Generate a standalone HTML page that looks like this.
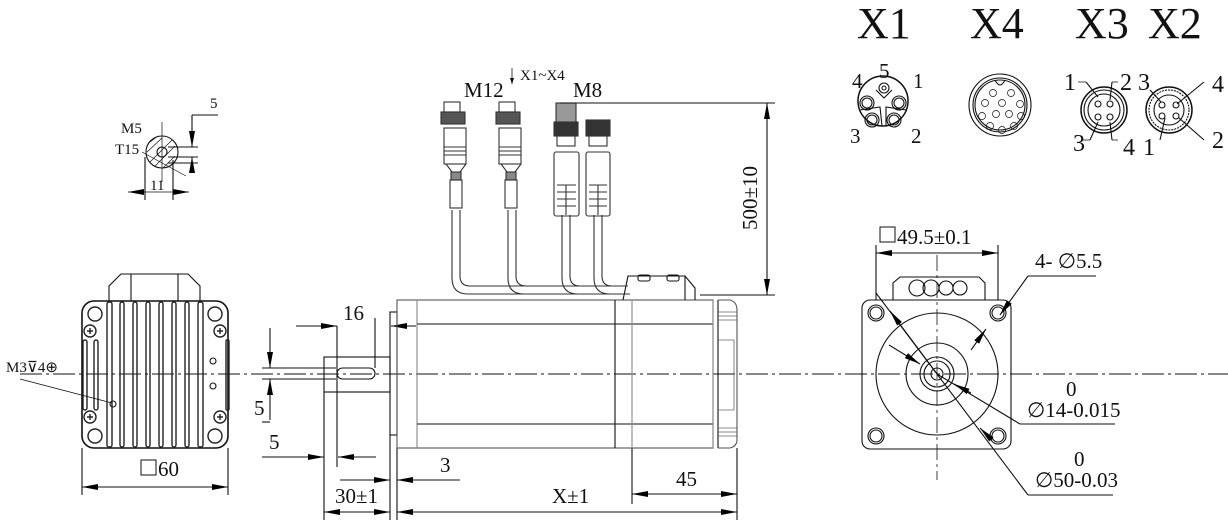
<!DOCTYPE html>
<html><head><meta charset="utf-8"><style>
html,body{margin:0;padding:0;background:#fff}
svg{display:block}
text{font-family:"Liberation Serif",serif;fill:#111}
</style></head><body>
<svg width="1228" height="524" viewBox="0 0 1228 524" xmlns="http://www.w3.org/2000/svg">
<defs>
<marker id="a" viewBox="0 0 16 6" refX="16" refY="3" markerWidth="16" markerHeight="6" markerUnits="userSpaceOnUse" orient="auto-start-reverse"><path d="M0,0L16,3L0,6z" fill="#000"/></marker>
</defs>
<g fill="none" stroke="#111" stroke-width="1.1">
<line x1="20" y1="374" x2="1228" y2="374" stroke-dasharray="22,4,3,4" stroke-width="0.9"/>

<!-- Left end view -->
<rect x="82" y="301" width="146" height="147" rx="12" stroke-width="1.6"/>
<path d="M109 301V286L121 274H188L200 286V301" />
<path d="M131 274V301M178 274V301"/>
<g stroke="#222" stroke-width="1.4">
<rect x="107" y="302" width="5" height="145" rx="2"/><rect x="120" y="302" width="4" height="145" rx="2"/>
<rect x="133" y="302" width="4" height="145" rx="2"/><rect x="146" y="302" width="4" height="145" rx="2"/>
<rect x="159" y="302" width="4" height="145" rx="2"/><rect x="172" y="302" width="4" height="145" rx="2"/>
<rect x="185" y="302" width="4" height="145" rx="2"/><rect x="198" y="302" width="5" height="145" rx="2"/>
<rect x="83" y="340" width="4" height="70" rx="2"/><rect x="94" y="340" width="4" height="70" rx="2"/>
<rect x="226" y="340" width="3" height="70" rx="1"/>
<circle cx="95" cy="314" r="7"/><circle cx="215" cy="314" r="7"/><circle cx="95" cy="436" r="7"/><circle cx="215" cy="436" r="7"/>
<circle cx="90" cy="331" r="6"/><circle cx="220" cy="331" r="6"/><circle cx="90" cy="417" r="6"/><circle cx="220" cy="417" r="6"/>
<path d="M87 331h6M90 328v6M217 331h6M220 328v6M87 417h6M90 414v6M217 417h6M220 414v6"/>
</g>
<circle cx="213" cy="361" r="3"/><circle cx="213" cy="386" r="3"/>
<circle cx="113" cy="404" r="3"/>
<line x1="20" y1="379" x2="112" y2="403" stroke-width="0.8"/>
<line x1="82" y1="448" x2="82" y2="495"/><line x1="228" y1="448" x2="228" y2="495"/>
<line x1="82" y1="487" x2="228" y2="487" marker-start="url(#a)" marker-end="url(#a)"/>

<!-- small section M5 -->
<circle cx="162" cy="152" r="16"/>
<circle cx="162" cy="152" r="5"/>
<path d="M150 142l8 -6M147 152l15 -14M150 162l22 -22M155 166l20 -20M163 168l12 -12" stroke-width="0.7"/>
<line x1="162" y1="122" x2="162" y2="182" stroke-width="0.7"/>
<line x1="142" y1="152" x2="186" y2="176" stroke-width="0.7"/>
<line x1="145" y1="157" x2="145" y2="200"/><line x1="173" y1="160" x2="173" y2="200"/>
<line x1="128" y1="192" x2="189" y2="192" marker-start="url(#a)" marker-end="url(#a)" stroke-width="0.8"/>
<path d="M168 147H198M168 157H198M168 163H198M192 115H218"/>
<line x1="192" y1="115" x2="192" y2="147" marker-end="url(#a)"/>
<line x1="192" y1="172" x2="192" y2="157" marker-end="url(#a)"/>

<!-- Side view shaft -->
<rect x="324" y="357" width="66" height="35"/>
<rect x="337" y="368" width="38" height="11" rx="5.5"/>
<rect x="390" y="312" width="7" height="123"/>
<line x1="262" y1="368" x2="336" y2="368"/><line x1="262" y1="379" x2="336" y2="379"/>
<line x1="270" y1="328" x2="270" y2="368" marker-end="url(#a)"/>
<line x1="270" y1="420" x2="270" y2="379" marker-end="url(#a)"/>
<path d="M262 422H270"/>
<line x1="337" y1="326" x2="337" y2="467"/><line x1="375" y1="318" x2="375" y2="368"/>
<line x1="296" y1="326" x2="337" y2="326" marker-end="url(#a)"/>
<line x1="416" y1="326" x2="391" y2="326" marker-end="url(#a)"/>
<line x1="262" y1="457" x2="324" y2="457" marker-end="url(#a)"/>
<line x1="376" y1="457" x2="338" y2="457" marker-end="url(#a)"/>
<line x1="324" y1="392" x2="324" y2="520"/>
<line x1="390" y1="435" x2="390" y2="520"/>
<line x1="340" y1="480" x2="390" y2="480" marker-end="url(#a)"/>
<line x1="460" y1="480" x2="397" y2="480" marker-end="url(#a)"/>
<line x1="324" y1="512" x2="390" y2="512" marker-start="url(#a)" marker-end="url(#a)"/>
<line x1="397" y1="512" x2="737" y2="512" marker-start="url(#a)" marker-end="url(#a)"/>
<line x1="397" y1="448" x2="397" y2="520"/><line x1="737" y1="448" x2="737" y2="520"/>
<line x1="632" y1="448" x2="632" y2="504"/>
<line x1="632" y1="494" x2="737" y2="494" marker-start="url(#a)" marker-end="url(#a)"/>

<!-- Motor body -->
<rect x="397" y="300" width="316" height="148" stroke="#555"/>
<line x1="417" y1="300" x2="417" y2="448" stroke="#888"/>
<line x1="417" y1="324" x2="713" y2="324"/><line x1="417" y1="424" x2="713" y2="424"/>
<line x1="615" y1="300" x2="615" y2="448"/><line x1="632" y1="300" x2="632" y2="448" stroke="#888"/>
<line x1="713" y1="300" x2="713" y2="448" stroke="#888"/><line x1="718" y1="300" x2="718" y2="448"/>
<path d="M718 300H730Q737 302 737 310V440Q737 446 730 448H718" stroke="#555"/>
<path d="M718 312H737M718 316H737M718 320H737M718 428H737M718 432H737M718 436H737M718 340H734V410H718" stroke="#666" stroke-width="0.8"/>
<path d="M623 300L628 276H685L695 288V300" /><path d="M685 276V300"/>
<rect x="638" y="275" width="12" height="6" rx="2"/><rect x="667" y="275" width="12" height="6" rx="2"/>
<g stroke="#333">
<path d="M452 210V278Q452 294 468 294H630"/><path d="M460 210V276Q460 286 470 286H628"/>
<path d="M508 210V278Q508 294 524 294H630"/><path d="M516 210V276Q516 286 526 286H628"/>
<path d="M562 215V278Q562 294 578 294H630"/><path d="M570 215V276Q570 286 580 286H628"/>
<path d="M594 215V278Q594 294 610 294H630"/><path d="M602 215V276Q602 286 612 286H628"/>
</g>
<g stroke="#333">
<rect x="444" y="102" width="16" height="10"/><rect x="441" y="112" width="24" height="12" fill="#555"/>
<rect x="444" y="128" width="22" height="36"/><path d="M444 147H466M444 151H466M444 155H466"/><path d="M446 164L452 172H460L466 164"/>
<rect x="451" y="172" width="10" height="8" fill="#888"/><rect x="450" y="180" width="12" height="28"/>
<rect x="499" y="102" width="16" height="10"/><rect x="496" y="112" width="24" height="12" fill="#555"/>
<rect x="499" y="128" width="22" height="36"/><path d="M499 147H521M499 151H521M499 155H521"/><path d="M501 164L507 172H515L521 164"/>
<rect x="506" y="172" width="10" height="8" fill="#888"/><rect x="505" y="180" width="12" height="28"/>
<rect x="556" y="103" width="20" height="22" fill="#999"/><rect x="554" y="122" width="24" height="14" fill="#333"/>
<rect x="557" y="136" width="18" height="10"/><rect x="554" y="152" width="25" height="64" rx="2"/>
<path d="M557 185H576M557 192H576M557 199H576M557 206H576M566 185V215"/>
<rect x="586" y="120" width="24" height="16" fill="#333"/>
<rect x="589" y="136" width="18" height="10"/><rect x="586" y="152" width="24" height="64" rx="2"/>
<path d="M589 185H607M589 192H607M589 199H607M589 206H607M598 185V215"/>
</g>
<line x1="512" y1="68" x2="512" y2="84" stroke-width="0.8"/><path d="M510 78L512 84L514 78z" fill="#000" stroke="none"/>
<line x1="560" y1="103" x2="775" y2="103"/><line x1="700" y1="295" x2="775" y2="295"/>
<line x1="767" y1="103" x2="767" y2="295" marker-start="url(#a)" marker-end="url(#a)"/>

<!-- Right flange view -->
<rect x="862" y="300" width="149" height="149" rx="8"/>
<path d="M893 300V283L900 277H979L985 283V300"/>
<circle cx="917" cy="288" r="8"/><circle cx="931" cy="288" r="8"/><circle cx="946" cy="288" r="7"/><circle cx="960" cy="288" r="7"/>
<circle cx="876" cy="313" r="8"/><circle cx="876" cy="313" r="6"/><circle cx="998" cy="313" r="8"/><circle cx="998" cy="313" r="6"/>
<circle cx="876" cy="436" r="8"/><circle cx="876" cy="436" r="6"/><circle cx="998" cy="436" r="8"/><circle cx="998" cy="436" r="6"/>
<circle cx="937" cy="374" r="61"/><circle cx="937" cy="374" r="31"/><circle cx="937" cy="374" r="17"/><circle cx="937" cy="374" r="13"/><circle cx="937" cy="374" r="6"/>
<line x1="937" y1="255" x2="937" y2="480" stroke-dasharray="16,4,3,4" stroke-width="0.8"/>
<line x1="876" y1="245" x2="876" y2="300"/><line x1="998" y1="245" x2="998" y2="300"/>
<line x1="876" y1="253" x2="998" y2="253" marker-start="url(#a)" marker-end="url(#a)"/>
<line x1="876" y1="293" x2="937" y2="374"/>
<line x1="890" y1="311" x2="937" y2="374" marker-start="url(#a)"/>
<line x1="1096" y1="276" x2="1028" y2="276"/><line x1="1028" y1="276" x2="1000" y2="315" marker-end="url(#a)"/>
<line x1="971" y1="350" x2="986" y2="329" marker-end="url(#a)" />
<line x1="889" y1="345" x2="920" y2="364" marker-end="url(#a)"/>
<line x1="937" y1="374" x2="1020" y2="424"/><line x1="1020" y1="424" x2="1115" y2="424"/>
<line x1="971" y1="393" x2="954" y2="384" marker-end="url(#a)"/>
<line x1="937" y1="374" x2="1028" y2="495"/><line x1="1028" y1="495" x2="1113" y2="495"/>
<line x1="992" y1="440" x2="980" y2="428" marker-end="url(#a)"/>

<!-- X1 -->
<circle cx="883" cy="101" r="25" stroke-width="1.5"/>
<circle cx="884" cy="88" r="5"/><circle cx="884" cy="88" r="2"/>
<circle cx="867" cy="103" r="7"/><circle cx="867" cy="103" r="5"/><circle cx="899" cy="103" r="7"/><circle cx="899" cy="103" r="5"/>
<circle cx="872" cy="120" r="7"/><circle cx="872" cy="120" r="5"/><circle cx="894" cy="120" r="7"/><circle cx="894" cy="120" r="5"/>
<path d="M860 110L880 107L882 126M906 110L886 107L886 126M876 90L884 98L892 90"/>
<!-- X4 -->
<circle cx="1000" cy="105" r="31"/><circle cx="1000" cy="105" r="27"/><circle cx="1000" cy="105" r="25"/>
<path d="M995 80Q1000 90 1005 80"/>
<g stroke-width="0.7">
<circle cx="993" cy="93" r="3.5"/><circle cx="1011" cy="93" r="3.5"/><circle cx="985" cy="103" r="3.5"/><circle cx="1002" cy="103" r="3.5"/><circle cx="1020" cy="104" r="3.5"/>
<circle cx="982" cy="116" r="3.5"/><circle cx="996" cy="114" r="3.5"/><circle cx="1009" cy="114" r="3.5"/><circle cx="1021" cy="116" r="3.5"/>
<circle cx="990" cy="126" r="3.5"/><circle cx="1002" cy="130" r="3.5"/><circle cx="1014" cy="126" r="3.5"/>
</g>
<!-- X3 -->
<circle cx="1104" cy="110" r="23" stroke-width="1.5"/><circle cx="1104" cy="110" r="20"/><circle cx="1104" cy="110" r="16"/>
<circle cx="1098" cy="104" r="3"/><circle cx="1110" cy="104" r="3"/><circle cx="1098" cy="117" r="3"/><circle cx="1110" cy="117" r="3"/>
<path d="M1086 82L1098 97M1112 82L1110 100M1090 140L1098 122M1112 140L1110 122"/>
<path d="M1078 82H1086M1112 82H1118M1082 140H1090M1112 140H1118" stroke-width="0.7"/>
<!-- X2 -->
<circle cx="1169" cy="110" r="23" stroke-width="1.5"/><circle cx="1169" cy="110" r="20" stroke-dasharray="2,1"/><circle cx="1169" cy="110" r="15"/>
<circle cx="1162" cy="105" r="3"/><circle cx="1176" cy="105" r="3"/><circle cx="1162" cy="116" r="3"/><circle cx="1176" cy="116" r="3"/>
<path d="M1150 90L1161 102M1204 82L1177 104M1160 140L1165 118M1204 140L1179 118"/>
</g>

<g font-size="21">
<text x="343" y="320">16</text>
<text x="254" y="415">5</text>
<text x="269" y="449">5</text>
<text x="440" y="472">3</text>
<text x="335" y="503">30±1</text>
<text x="552" y="503">X±1</text>
<text x="676" y="486">45</text>
<text x="158" y="476">60</text>
<text x="464" y="97">M12</text>
<text x="573" y="97">M8</text>
<text transform="translate(757 230) rotate(-90)">500±10</text>
<text x="897" y="244">49.5±0.1</text>
<text x="1035" y="268">4- ∅5.5</text>
<text x="1066" y="396">0</text>
<text x="1027" y="417">∅14-0.015</text>
<text x="1074" y="466">0</text>
<text x="1035" y="487">∅50-0.03</text>
<text x="852" y="88">4</text><text x="879" y="78">5</text><text x="913" y="88">1</text>
<text x="850" y="143">3</text><text x="911" y="143">2</text>
</g>
<g font-size="24">
<text x="1064" y="90">1</text><text x="1120" y="90">2</text><text x="1138" y="90">3</text><text x="1212" y="92">4</text>
<text x="1073" y="151">3</text><text x="1123" y="155">4</text><text x="1143" y="155">1</text><text x="1212" y="148">2</text>
</g>
<rect x="880" y="227" width="15" height="15" fill="none" stroke="#111"/>
<rect x="141" y="460" width="15" height="15" fill="none" stroke="#111"/>
<g font-size="15">
<text x="520" y="80">X1~X4</text>
<text x="121" y="133">M5</text>
<text x="115" y="154">T15</text>
<text x="210" y="108">5</text>
<text x="150" y="190">11</text>
<text x="6" y="372">M3⊽4⊕</text>
</g>
<g font-size="44">
<text x="857" y="38">X1</text>
<text x="970" y="38">X4</text>
<text x="1075" y="38">X3</text>
<text x="1148" y="38">X2</text>
</g>
</svg>
</body></html>
